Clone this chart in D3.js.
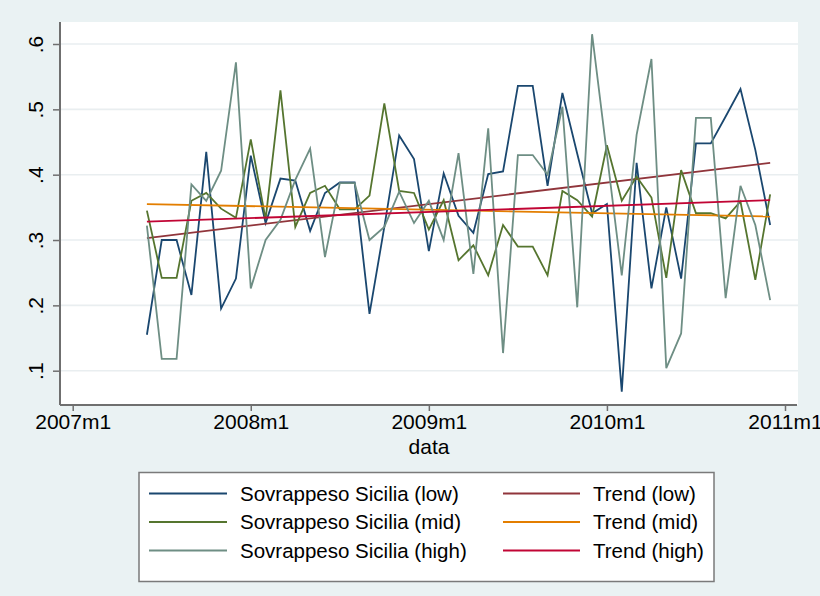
<!DOCTYPE html>
<html><head><meta charset="utf-8">
<script src="https://cdn.jsdelivr.net/npm/d3@7"></script>
<style>
body{margin:0;background:#eaf2f3;}
text{font-family:"Liberation Sans",Arial,Helvetica,sans-serif;fill:#000;}
</style>
</head><body>
<svg id="chart" width="820" height="596"></svg>
<script>
// ---- data ----
const months = [
  "2007m6","2007m7","2007m8","2007m9","2007m10","2007m11","2007m12",
  "2008m1","2008m2","2008m3","2008m4","2008m5","2008m6","2008m7","2008m8","2008m9","2008m10","2008m11","2008m12",
  "2009m1","2009m2","2009m3","2009m4","2009m5","2009m6","2009m7","2009m8","2009m9","2009m10","2009m11","2009m12",
  "2010m1","2010m2","2010m3","2010m4","2010m5","2010m6","2010m7","2010m8","2010m9","2010m10","2010m11","2010m12"
];
const sovrappesoLow = [
  0.155,0.300,0.300,0.216,0.435,0.195,0.241,
  0.429,0.326,0.394,0.391,0.314,0.372,0.388,0.388,0.187,0.320,0.460,0.424,
  0.283,0.402,0.337,0.311,0.401,0.405,0.536,0.536,0.383,0.525,0.432,0.341,
  0.355,0.068,0.418,0.226,0.350,0.241,0.448,0.448,0.489,0.531,0.438,0.323
];
const sovrappesoMid = [
  0.345,0.242,0.242,0.360,0.372,0.348,0.334,
  0.454,0.332,0.529,0.320,0.372,0.383,0.347,0.347,0.368,0.509,0.375,0.372,
  0.316,0.361,0.269,0.292,0.246,0.323,0.290,0.290,0.246,0.375,0.361,0.336,
  0.445,0.360,0.397,0.365,0.242,0.407,0.341,0.341,0.333,0.359,0.239,0.370
];
const sovrappesoHigh = [
  0.322,0.118,0.118,0.385,0.360,0.406,0.572,
  0.226,0.300,0.331,0.392,0.440,0.274,0.387,0.387,0.300,0.320,0.374,0.326,
  0.360,0.300,0.433,0.248,0.471,0.127,0.430,0.430,0.400,0.504,0.197,0.615,
  0.431,0.246,0.461,0.577,0.104,0.157,0.487,0.487,0.211,0.383,0.323,0.208
];
const trendMonths = ["2007m6","2010m12"];
const trendLow  = [0.303, 0.418];
const trendMid  = [0.355, 0.336];
const trendHigh = [0.328, 0.361];
const xTickLabels = ["2007m1","2008m1","2009m1","2010m1","2011m1"];
const yTickValues = [0.1,0.2,0.3,0.4,0.5,0.6];
const legendLabels = ["Sovrappeso Sicilia (low)","Trend (low)","Sovrappeso Sicilia (mid)","Trend (mid)","Sovrappeso Sicilia (high)","Trend (high)"];

// ---- helpers ----
const toMonth = s => { const p = s.split("m"); return (+p[0]-1960)*12 + (+p[1]-1); };

const svg = d3.select("#chart");
const plot = {left:60, right:798, top:22, bottom:405};

const x = d3.scaleLinear().domain([toMonth("2007m1"), toMonth("2011m1")]).range([72.7, 785]);
const y = d3.scaleLinear().domain([0.1, 0.6]).range([370.7, 44]);

// background
svg.append("rect").attr("width",820).attr("height",596).attr("fill","#eaf2f3");
svg.append("rect").attr("x",plot.left).attr("y",plot.top)
  .attr("width",plot.right-plot.left).attr("height",plot.bottom-plot.top).attr("fill","#fff");

// gridlines
svg.append("g").selectAll("line").data(yTickValues).join("line")
  .attr("x1",plot.left).attr("x2",plot.right)
  .attr("y1",d=>y(d)).attr("y2",d=>y(d))
  .attr("stroke","#e9eef0").attr("stroke-width",1.6);

// series
const series = [
  {xs: months, ys: sovrappesoLow, color:"#1a476f"},
  {xs: trendMonths, ys: trendLow, color:"#90353b"},
  {xs: months, ys: sovrappesoMid, color:"#55752f"},
  {xs: trendMonths, ys: trendMid, color:"#e37e00"},
  {xs: months, ys: sovrappesoHigh, color:"#6e8e84"},
  {xs: trendMonths, ys: trendHigh, color:"#c10534"}
];
const line = d3.line().x(d=>x(d[0])).y(d=>y(d[1]));
series.forEach(s=>{
  svg.append("path")
    .attr("d", line(s.xs.map((m,i)=>[toMonth(m), s.ys[i]])))
    .attr("fill","none").attr("stroke",s.color).attr("stroke-width",1.8)
    .attr("stroke-linejoin","miter");
});

// axes
const axisColor = "#6f6f6f";
const xAxis = svg.append("g").attr("transform",`translate(0,${plot.bottom})`)
  .call(d3.axisBottom(x).tickValues(xTickLabels.map(toMonth))
    .tickFormat((d,i)=>xTickLabels[i]).tickSize(6).tickSizeOuter(0));
xAxis.select(".domain").remove();
xAxis.selectAll(".tick line").attr("stroke",axisColor).attr("stroke-width",1.5);
xAxis.selectAll(".tick text").attr("font-size",21).attr("y",9).attr("dy","0.71em");

const yAxis = svg.append("g").attr("transform",`translate(${plot.left},0)`)
  .call(d3.axisLeft(y).tickValues(yTickValues)
    .tickFormat(d=>d3.format(".1f")(d).replace(/^0/,"")).tickSize(7).tickSizeOuter(0));
yAxis.select(".domain").remove();
yAxis.selectAll(".tick line").attr("stroke",axisColor).attr("stroke-width",1.5);
yAxis.selectAll(".tick text").attr("font-size",21)
  .attr("transform","rotate(-90)").attr("text-anchor","middle")
  .attr("x",0).attr("y",-17.3).attr("dy",0);

svg.append("line").attr("x1",plot.left).attr("x2",plot.right-1).attr("y1",plot.bottom).attr("y2",plot.bottom)
  .attr("stroke",axisColor).attr("stroke-width",2);
svg.append("line").attr("x1",plot.left).attr("x2",plot.left).attr("y1",plot.top).attr("y2",plot.bottom)
  .attr("stroke",axisColor).attr("stroke-width",2);

svg.append("text").attr("x",(plot.left+plot.right)/2).attr("y",454).attr("text-anchor","middle")
  .attr("font-size",21).text("data");

// legend
const lg = svg.append("g");
lg.append("rect").attr("x",139).attr("y",472.5).attr("width",575).attr("height",109)
  .attr("fill","#fff").attr("stroke","#7a7a7a").attr("stroke-width",1.5);
const colX = [{l1:149,l2:227,t:240},{l1:503,l2:580,t:593}];
const rowY = [493.5,522,550.5];
legendLabels.forEach((lab,i)=>{
  const c = colX[i%2], r = rowY[Math.floor(i/2)];
  lg.append("line").attr("x1",c.l1).attr("x2",c.l2).attr("y1",r).attr("y2",r)
    .attr("stroke",series[i].color).attr("stroke-width",1.8);
  lg.append("text").attr("x",c.t).attr("y",r).attr("dy","0.35em").attr("font-size",20.5).text(lab);
});
</script>
</body></html>
